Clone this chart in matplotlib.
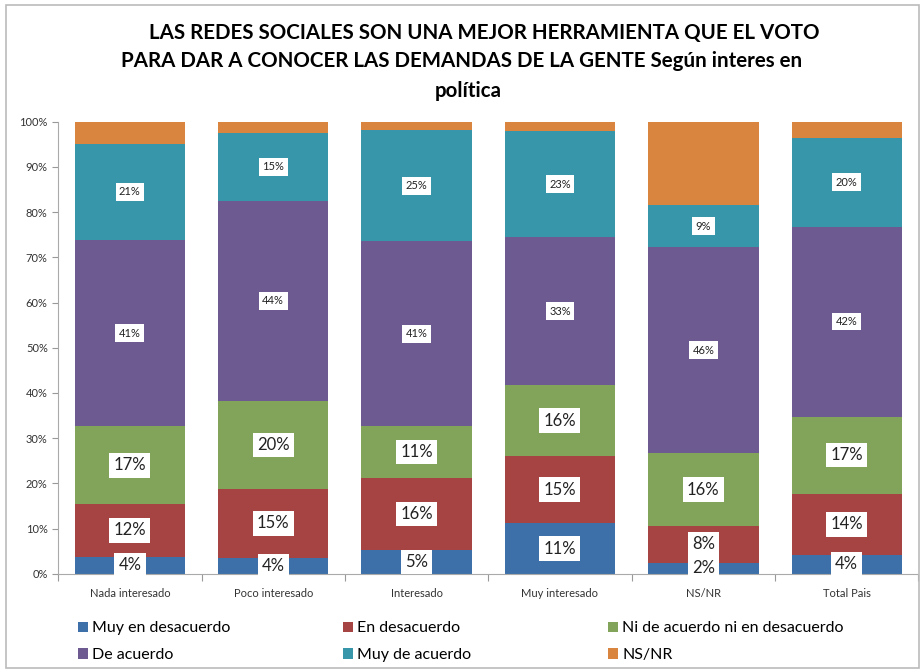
import numpy as np
import matplotlib.pyplot as plt
from matplotlib.patches import Rectangle

plt.rcParams['font.family'] = ['Lato', 'DejaVu Sans']

categories = ['Nada interesado', 'Poco interesado', 'Interesado',
              'Muy interesado', 'NS/NR', 'Total Pais']
series_names = ['Muy en desacuerdo', 'En desacuerdo',
                'Ni de acuerdo ni en desacuerdo', 'De acuerdo',
                'Muy de acuerdo', 'NS/NR']

muy_desacuerdo = [3.8, 3.6, 5.3, 11.2, 2.4, 4.2]
en_desacuerdo = [11.6, 15.1, 16.0, 14.9, 8.2, 13.5]
ni_ni = [17.2, 19.6, 11.3, 15.6, 16.1, 17.1]
de_acuerdo = [41.3, 44.2, 40.9, 32.8, 45.6, 42.0]
muy_acuerdo = [21.2, 15.0, 24.7, 23.4, 9.2, 19.6]
ns_nr = [4.9, 2.5, 1.8, 2.1, 18.5, 3.6]

colors = ['#3D70A8', '#A54442', '#82A45A', '#6C5A91', '#3896AB', '#D9843F']

series = [muy_desacuerdo, en_desacuerdo, ni_ni, de_acuerdo, muy_acuerdo, ns_nr]

fig = plt.figure(figsize=(9.23, 6.72), dpi=100)
ax = fig.add_axes([0.063, 0.146, 0.932, 0.673])

x = np.arange(len(categories))
bottom = np.zeros(len(categories))
handles = []
for i, (vals, col, name) in enumerate(zip(series, colors, series_names)):
    vals = np.array(vals)
    bars = ax.bar(x, vals, 0.77, bottom=bottom, color=col, label=name)
    handles.append(bars)
    # labels (no label for NS/NR segment)
    if i < 5:
        size = 12 if i < 3 else 8
        for xi, v, b in zip(x, vals, bottom):
            ax.text(xi, b + v / 2, f"{round(v):.0f}%", ha='center', va='center',
                    fontsize=size, color='#222222',
                    bbox=dict(facecolor='white', edgecolor='none', pad=3 if i < 3 else 2.5))
    bottom += vals

ax.set_xlim(-0.5, len(categories) - 0.5)
ax.set_ylim(0, 100)
ax.set_yticks(np.arange(0, 101, 10))
ax.set_yticklabels([f"{v}%" for v in range(0, 101, 10)], fontsize=8, color='#333333')

# category labels centred, tick marks between categories
ax.set_xticks(np.arange(-0.5, len(categories), 1))
ax.set_xticklabels([])
ax.set_xticks(x, minor=True)
ax.set_xticklabels(categories, minor=True, fontsize=8, color='#333333')
ax.tick_params(axis='x', which='minor', length=0, pad=10)
ax.tick_params(axis='x', which='major', length=5, color='#999999')
ax.tick_params(axis='y', length=4, color='#999999')

for s in ['top', 'right']:
    ax.spines[s].set_visible(False)
ax.spines['left'].set_color('#AAAAAA')
ax.spines['bottom'].set_color('#AAAAAA')

# Title
fig.text(0.525, 0.951, "LAS REDES SOCIALES SON UNA MEJOR HERRAMIENTA QUE EL VOTO",
         ha='center', va='center', fontsize=14.8, fontweight='bold')
fig.text(0.50, 0.909, "PARA DAR A CONOCER LAS DEMANDAS DE LA GENTE Según interes en",
         ha='center', va='center', fontsize=14.8, fontweight='bold')
fig.text(0.507, 0.864, "política", ha='center', va='center', fontsize=14.8, fontweight='bold')

# Legend: three equal-width columns, filled row-wise like the original
for col, left in enumerate([78, 343, 608]):
    idx = [col, col + 3]
    fig.legend([handles[k] for k in idx], [series_names[k] for k in idx],
               loc='center left', bbox_to_anchor=(left / 923, 0.045),
               frameon=False, fontsize=11.5, handlelength=0.6, handleheight=0.6,
               handletextpad=0.3, labelspacing=0.8, borderpad=0, borderaxespad=0)

# Outer border
fig.patches.append(Rectangle((0.006, 0.006), 0.99, 0.986, transform=fig.transFigure,
                             fill=False, edgecolor='#BBBBBB', linewidth=1.2))

fig.savefig('out.png', dpi=100)
plt.close(fig)
